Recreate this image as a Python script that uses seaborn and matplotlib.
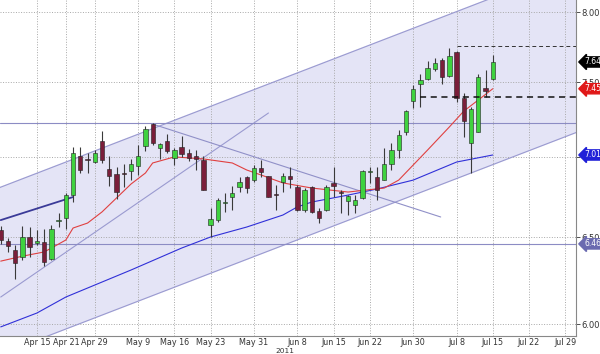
import numpy as np
import pandas as pd
import matplotlib
matplotlib.use('Agg')
import matplotlib.pyplot as plt
import matplotlib.transforms as mtransforms
from matplotlib.ticker import NullLocator, FixedLocator
import seaborn as sns

# daily candles (trading-day index 0..68)
opens = [6.544, 6.478, 6.424, 6.383, 6.502, 6.466, 6.472, 6.371, 6.596, 6.616,
         6.758, 7.006, 6.982, 6.967, 7.104, 6.922, 6.890, 6.892, 6.910, 6.942,
         7.071, 7.215, 7.058, 7.104, 6.993, 7.065, 7.026, 7.006, 6.980, 6.574,
         6.604, 6.706, 6.746, 6.809, 6.871, 6.852, 6.929, 6.878, 6.760, 6.840,
         6.878, 6.809, 6.666, 6.809, 6.660, 6.666, 6.834, 6.773, 6.721, 6.696,
         6.740, 6.905, 6.871, 6.852, 6.955, 7.045, 7.163, 7.370, 7.486, 7.521,
         7.591, 7.654, 7.542, 7.711, 7.391, 7.091, 7.163, 7.459, 7.521]
highs = [6.568, 6.496, 6.454, 6.568, 6.562, 6.544, 6.550, 6.574, 6.647, 6.771,
         7.065, 7.065, 7.026, 7.045, 7.169, 7.006, 6.935, 6.955, 6.987, 7.078,
         7.202, 7.222, 7.091, 7.150, 7.058, 7.136, 7.052, 7.045, 7.006, 6.678,
         6.740, 6.771, 6.815, 6.871, 6.878, 6.948, 6.980, 6.880, 6.821, 6.897,
         6.935, 6.821, 6.802, 6.815, 6.678, 6.821, 6.935, 6.790, 6.758, 6.758,
         6.916, 6.935, 6.935, 7.058, 7.091, 7.176, 7.309, 7.479, 7.556, 7.647,
         7.668, 7.668, 7.739, 7.718, 7.425, 7.330, 7.556, 7.584, 7.689]
lows = [6.460, 6.412, 6.255, 6.365, 6.383, 6.454, 6.330, 6.365, 6.562, 6.550,
        6.715, 6.897, 6.897, 6.961, 6.961, 6.815, 6.733, 6.809, 6.852, 6.884,
        7.039, 7.078, 6.987, 7.026, 6.948, 7.000, 6.974, 6.916, 6.788, 6.502,
        6.592, 6.654, 6.666, 6.777, 6.771, 6.840, 6.871, 6.744, 6.666, 6.777,
        6.802, 6.660, 6.654, 6.650, 6.586, 6.660, 6.746, 6.647, 6.635, 6.647,
        6.733, 6.834, 6.727, 6.850, 6.916, 6.993, 7.143, 7.323, 7.330, 7.514,
        7.577, 7.486, 7.535, 7.363, 7.130, 6.897, 7.160, 7.398, 7.514]
closes = [6.484, 6.448, 6.348, 6.502, 6.442, 6.478, 6.353, 6.550, 6.600, 6.758,
          7.026, 6.916, 6.978, 7.026, 6.980, 6.878, 6.777, 6.888, 6.955, 7.006,
          7.183, 7.091, 7.084, 7.039, 7.045, 7.019, 6.993, 6.987, 6.790, 6.610,
          6.727, 6.710, 6.771, 6.840, 6.802, 6.929, 6.903, 6.746, 6.756, 6.878,
          6.858, 6.666, 6.790, 6.654, 6.616, 6.809, 6.815, 6.769, 6.752, 6.727,
          6.910, 6.912, 6.790, 6.955, 7.045, 7.143, 7.302, 7.452, 7.514, 7.598,
          7.633, 7.535, 7.683, 7.391, 7.235, 7.316, 7.535, 7.438, 7.640]

# moving averages, read at selected days
ma_fast_x = [0, 3, 6, 7, 9, 10, 12, 14, 16, 18, 20, 21, 24, 28, 32, 34, 36, 39,
             43, 48, 53, 55, 59, 62, 64, 66, 68]
ma_fast = [6.359, 6.388, 6.413, 6.436, 6.484, 6.556, 6.586, 6.654, 6.740, 6.827,
           6.897, 6.961, 7.000, 6.987, 6.961, 6.916, 6.884, 6.834, 6.802, 6.777,
           6.802, 6.852, 7.045, 7.196, 7.302, 7.377, 7.4539]
ma_slow_x = [0, 5, 9, 18, 25, 29, 34, 39, 41, 43, 48, 52, 57, 63, 68]
ma_slow = [5.985, 6.062, 6.152, 6.307, 6.436, 6.502, 6.562, 6.635, 6.685, 6.715,
           6.758, 6.796, 6.852, 6.967, 7.0125]

# drawn studies
channel_x = [-1, 80]
channel_upper = [6.790, 8.360]
channel_lower = [5.822, 7.168]
trend_up_x = [0, 37]
trend_up = [6.152, 7.289]
trend_down_x = [21, 60.8]
trend_down = [7.215, 6.623]
navy_x = [0, 10]
navy = [6.604, 6.746]
level_mid = 7.222
level_low = 6.4607
dash_thin = 7.75
dash_thick = 7.40

tick_pos = [5, 9, 13, 19, 24, 29, 35, 41, 46, 51, 57, 63, 68, 73, 78]
tick_labels = ['Apr 15', 'Apr 21', 'Apr 29', 'May 9', 'May 16', 'May 23', 'May 31',
               'Jun 8', 'Jun 15', 'Jun 22', 'Jun 30', 'Jul 8', 'Jul 15', 'Jul 22', 'Jul 29']
y_ticks = [6.0, 6.5, 7.0, 7.5, 8.0]
y_labels = ['6.00', '6.50', '', '7.50', '8.00']

sns.set_style('white')
plt.rcParams['font.family'] = ['DejaVu Sans']

fig = plt.figure(figsize=(6, 3.54), dpi=100)
ax = fig.add_axes([0, 1 - 336 / 354, 576 / 600, 336 / 354])
ax.set_yscale('log')
ax.set_xlim(-0.1, 79.5)
ax.set_ylim(5.935, 8.089)

# channel shading + lines
ax.fill_between(channel_x, channel_lower, channel_upper, color='#e4e4f6', zorder=0)
ax.plot(channel_x, channel_upper, color='#9a9ad0', lw=0.8, zorder=1)
ax.plot(channel_x, channel_lower, color='#9a9ad0', lw=0.8, zorder=1)
ax.plot(trend_up_x, trend_up, color='#9a9ad0', lw=0.8, zorder=1)
ax.plot(trend_down_x, trend_down, color='#9090c8', lw=0.8, zorder=1)
ax.plot(navy_x, navy, color='#3a3a98', lw=1.3, zorder=1)
ax.axhline(level_mid, color='#8c8cc4', lw=0.8, zorder=1)
ax.axhline(level_low, color='#8c8cc4', lw=0.8, zorder=1)
ax.plot([58, 79.5], [dash_thick, dash_thick], color='#111111', lw=1.1, ls=(0, (4, 3)), zorder=4)
ax.plot([63, 79.5], [dash_thin, dash_thin], color='#333333', lw=0.7, ls=(0, (4, 3)), zorder=4)

# moving averages
sns.lineplot(x=ma_slow_x, y=ma_slow, ax=ax, color='#3030d8', lw=0.8, zorder=2)
sns.lineplot(x=ma_fast_x, y=ma_fast, ax=ax, color='#e04040', lw=0.8, zorder=2)

# candles
df = pd.DataFrame({'o': opens, 'h': highs, 'l': lows, 'c': closes})
df['x'] = np.arange(len(df))
ax.vlines(df['x'], df['l'], df['h'], color='#3a3a3a', lw=0.8, zorder=3)
up = df['c'] >= df['o']
for mask, col in [(up, '#3fd23f'), (~up, '#7a1e3a')]:
    sub = df[mask]
    bot = sub[['o', 'c']].min(axis=1)
    hgt = (sub['c'] - sub['o']).abs().clip(lower=0.006)
    ax.bar(sub['x'], hgt, bottom=bot, width=0.6, color=col,
           edgecolor='#222222', linewidth=0.4, zorder=3.5)

# axes cosmetics
ax.yaxis.tick_right()
ax.yaxis.set_minor_locator(NullLocator())
ax.set_yticks(y_ticks)
ax.set_yticklabels(y_labels)
ax.set_xticks(tick_pos)
ax.set_xticklabels(tick_labels)
ax.xaxis.set_minor_locator(FixedLocator(np.arange(0, 80, 1)))
ax.tick_params(axis='y', labelsize=6, colors='#333333', length=3, width=0.6, pad=1,
               direction='out', right=True)
ax.tick_params(axis='x', which='major', labelsize=5.8, colors='#333333', length=2, width=0.5, pad=-0.5)
ax.tick_params(axis='x', which='minor', length=1.5, width=0.5, colors='#555555')
ax.grid(True, which='major', color='#a8a8a8', linestyle=':', linewidth=0.7)
ax.set_axisbelow(True)
for s in ['top', 'left']:
    ax.spines[s].set_visible(False)
for s in ['right', 'bottom']:
    ax.spines[s].set_color('#888888')
    ax.spines[s].set_linewidth(0.8)

# year under the Jun label, kept inside the figure
fig.text(285 / 600, 0.3 / 354, '2011', ha='center', va='bottom', fontsize=5.3, color='#333333')

# last-value tags on the right axis
trans = mtransforms.blended_transform_factory(ax.transAxes, ax.transData)
tags = [(7.64, '7.64', '#000000'), (7.4539, '7.4539', '#e01818'),
        (7.0125, '7.0125', '#2020d8'), (6.4607, '6.4607', '#6a6ab0')]
for val, lab, col in tags:
    ax.text(1.014, val, lab, transform=trans, ha='left', va='center', fontsize=5.5,
            color='white', clip_on=False,
            bbox=dict(boxstyle='larrow,pad=0.08', fc=col, ec=col))

fig.savefig('out.png', dpi=100)
